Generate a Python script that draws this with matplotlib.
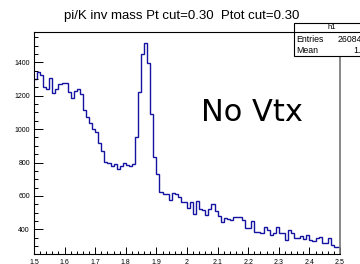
import numpy as np
import matplotlib
matplotlib.use("Agg")
import matplotlib.pyplot as plt
from matplotlib.patches import Rectangle
from matplotlib.ticker import MultipleLocator, FuncFormatter

plt.rcParams['font.family'] = ['Liberation Sans', 'DejaVu Sans']

# histogram h1: 100 bins from 1.5 to 2.5
x_min, x_max, n_bins = 1.5, 2.5, 100
counts = [
    1300, 1340, 1325, 1255, 1238, 1305, 1215, 1240, 1270, 1275,
    1275, 1225, 1185, 1230, 1240, 1210, 1114, 1074, 1038, 998,
    984, 915, 870, 803, 797, 778, 790, 763, 780, 798,
    788, 781, 790, 951, 1224, 1450, 1514, 1398, 1093, 831,
    730, 625, 613, 611, 575, 615, 612, 595, 561, 561,
    529, 561, 489, 569, 521, 515, 485, 521, 549, 509,
    481, 441, 469, 461, 453, 473, 473, 473, 457, 405,
    405, 449, 385, 381, 375, 415, 395, 365, 379, 415,
    379, 375, 335, 395, 375, 349, 345, 361, 341, 365,
    335, 329, 345, 355, 315, 315, 345, 305, 295, 295,
]
title = "pi/K inv mass Pt cut=0.30  Ptot cut=0.30"
entries_txt = "26084"
mean_txt = "1.86"

edges = np.linspace(x_min, x_max, n_bins + 1)

fig = plt.figure(figsize=(3.6, 2.64), dpi=100)
ax = fig.add_axes([34/360, 10/264, 306/360, 222/264])

ax.stairs(counts, edges, baseline=None, color='#1414a0', lw=1.0)
ax.set_xlim(x_min, x_max)
ax.set_ylim(252, 1582)

# ROOT style ticks
ax.xaxis.set_major_locator(MultipleLocator(0.1))
ax.xaxis.set_minor_locator(MultipleLocator(0.02))
ax.yaxis.set_major_locator(MultipleLocator(200))
ax.yaxis.set_minor_locator(MultipleLocator(50))
ax.xaxis.set_major_formatter(FuncFormatter(lambda v, p: f"{v:.1f}".rstrip('0').rstrip('.')))
ax.tick_params(axis='x', which='major', direction='in', length=4.8, width=0.7,
               labelsize=5, pad=3.6, top=False)
ax.tick_params(axis='x', which='minor', direction='in', length=2.4, width=0.7, top=False)
ax.tick_params(axis='y', which='major', direction='in', length=6.5, width=0.7,
               labelsize=5, pad=2.9, right=False)
ax.tick_params(axis='y', which='minor', direction='in', length=3.2, width=0.7, right=False)
for s in ['left', 'bottom', 'top']:
    ax.spines[s].set_linewidth(0.8)
ax.spines['right'].set_color('0.45')
ax.spines['right'].set_linewidth(1.2)

fig.text(0.504, 1 - 19.5/264, title, ha='center', va='baseline', fontsize=9.5)

ax.text(201/360, 1 - 121/264, "No Vtx", transform=fig.transFigure,
        fontsize=22, family='DejaVu Sans', va='baseline', ha='left')

# stats box
box = Rectangle((294/360, 1 - 56/264), 80/360, 33/264, transform=fig.transFigure,
                facecolor='white', edgecolor='black', lw=0.8, zorder=5, clip_on=False)
fig.patches.append(box)
fig.add_artist(plt.Line2D([294/360, 1.1], [1 - 32/264, 1 - 32/264],
                          transform=fig.transFigure, color='black', lw=0.8, zorder=6))
fig.text(332/360, 1 - 27.5/264, "h1", ha='center', va='center', fontsize=5.5, zorder=7)
fig.text(296/360, 1 - 40/264, "Entries", ha='left', va='center', fontsize=6.3, zorder=7)
fig.text(338/360, 1 - 40/264, entries_txt, ha='left', va='center', fontsize=6.3, zorder=7)
fig.text(296/360, 1 - 50.5/264, "Mean", ha='left', va='center', fontsize=6.3, zorder=7)
fig.text(353/360, 1 - 50.5/264, mean_txt, ha='left', va='center', fontsize=6.3, zorder=7)

fig.savefig("out.png", dpi=100)
